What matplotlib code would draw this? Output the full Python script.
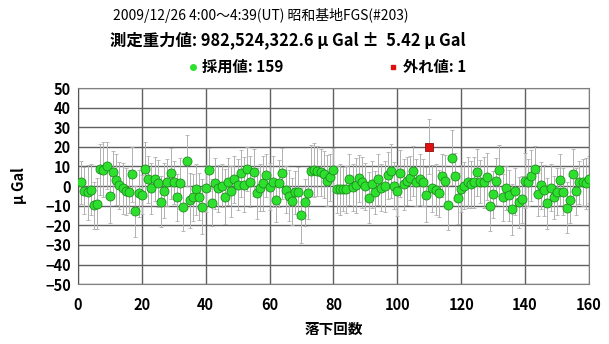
# -*- coding: utf-8 -*-

import matplotlib
matplotlib.use("Agg")
import matplotlib.pyplot as plt
from matplotlib.lines import Line2D
import numpy

plt.rcParams['font.family'] = ['Noto Sans CJK JP', 'DejaVu Sans']

# Data ########################################################

# gravity residual for each drop (uGal), drops 1..160 (drop 110 = outlier)
vals = [
    2.0, -2.4, -3.2, -1.9, -9.7, -8.9, 8.7, 8.3, 10.4, -4.9,
    7.0, 3.2, 0.5, -1.2, -2.6, -2.9, 6.0, -12.8, -3.7, -4.3,
    8.7, 3.6, -1.0, 3.6, 1.4, -8.0, -2.4, 1.9, 6.6, 1.9,
    -5.6, 1.4, -10.7, 12.9, -7.3, -5.8, -1.5, -5.5, -10.6, -1.2,
    8.3, -8.5, 1.5, -1.2, 0.2, -5.5, 2.2, -2.6, 3.6, 0.7,
    6.6, 0.7, 8.7, 2.2, 7.0, -3.7, -0.9, 1.5, 5.6, -0.3,
    2.2, -7.3, 1.5, 6.6, -1.9, -4.9, -7.8, -3.2, -3.2, -14.8,
    -8.3, -3.7, 7.8, 8.2, 7.7, 7.0, 6.1, 2.7, 4.4, 8.3,
    -1.5, -1.5, -1.5, -1.5, 3.6, -0.7, 0.5, 4.1, 1.9, -0.2,
    -6.0, 0.9, -3.2, 3.6, -0.9, 0.0, 5.6, 7.7, 0.2, -2.4,
    6.6, 1.0, 2.6, 4.1, 7.7, 1.9, 3.6, 1.9, -4.3, 20.1,
    -1.2, -1.9, -3.7, 5.3, 2.7, -9.5, 14.5, 4.9, -6.3, -1.4,
    0.2, 1.9, 1.0, 1.9, 7.0, 2.2, 1.9, 4.8, -10.0, -4.1,
    2.4, 8.0, -5.8, -1.0, -4.6, -11.8, -2.7, -8.3, -6.6, 2.7,
    1.9, 5.3, 8.7, -4.1, 0.5, -2.0, -8.7, -0.9, -5.8, -2.9,
    3.2, -2.9, -11.0, -7.0, 6.1, -2.7, 1.9, 1.9, 1.4, 3.6,
]

# error bar half length (uGal), read off roughly
errs = [
    11, 12, 14, 13, 12, 13, 13, 14, 12, 14,
    11, 13, 12, 13, 12, 11, 14, 13, 12, 10,
    14, 12, 13, 11, 12, 13, 14, 12, 13, 11,
    12, 13, 12, 13, 14, 12, 13, 12, 14, 12,
    11, 12, 13, 12, 11, 14, 12, 13, 12, 13,
    12, 14, 11, 13, 12, 13, 12, 14, 11, 12,
    13, 11, 12, 13, 12, 13, 12, 11, 13, 14,
    12, 13, 13, 14, 13, 12, 12, 13, 12, 11,
    12, 13, 11, 12, 13, 12, 14, 12, 13, 12,
    13, 12, 11, 13, 12, 13, 12, 14, 12, 13,
    12, 13, 12, 11, 13, 12, 13, 12, 14, 14,
    12, 13, 12, 11, 13, 13, 14, 12, 13, 12,
    12, 13, 12, 13, 12, 11, 13, 12, 13, 12,
    12, 13, 12, 11, 13, 13, 12, 13, 12, 14,
    12, 13, 12, 11, 12, 13, 13, 12, 11, 12,
    13, 12, 13, 12, 13, 12, 11, 12, 13, 12,
]

outlier_drop = 110
title1 = "2009/12/26 4:00～4:39(UT) 昭和基地FGS(#203)"
title2 = "測定重力値: 982,524,322.6 μ Gal ±  5.42 μ Gal"
label_ok = "採用値: 159"
label_out = "外れ値: 1"

# Plot ########################################################

drops = numpy.arange(1, len(vals) + 1)
vals = numpy.array(vals)
ok = drops != outlier_drop

fig = plt.figure(figsize=(6.09, 3.44), dpi=100)
ax = fig.add_axes([0.128, 0.174, 0.839, 0.570])

ax.errorbar(drops, vals, yerr=errs, fmt='none', ecolor='#b0b0b0',
            elinewidth=0.7, capsize=1.5, capthick=0.6, zorder=2)
ax.plot(drops[ok], vals[ok], 'o', color='#2ee02e', markeredgecolor='#1e8c1e',
        markeredgewidth=0.6, markersize=6.5, zorder=3)
ax.plot(drops[~ok], vals[~ok], 's', color='#e01010', markeredgecolor='#8c1010',
        markeredgewidth=0.6, markersize=6, zorder=4)

ax.set_xlim(0, 160)
ax.set_ylim(-50, 50)
ax.set_xticks(range(0, 161, 20))
ax.set_yticks(range(-50, 51, 10))
ax.grid(color='#606060', linewidth=1.0)
ax.set_axisbelow(True)
for s in ax.spines.values():
    s.set_color('#808080')
ax.spines['left'].set_color('#555555')
ax.tick_params(axis='x', length=0, pad=9, labelsize=10.5)
ax.tick_params(axis='y', length=0, pad=5, labelsize=10.5)
for t in ax.get_xticklabels() + ax.get_yticklabels():
    t.set_fontweight('bold')

ax.set_xlabel("落下回数", fontsize=10.5, fontweight='bold', labelpad=6)
ax.set_ylabel("μ Gal", fontsize=10.5, fontweight='bold', labelpad=13)

fig.text(0.185, 0.955, title1, fontsize=10, ha='left', va='center')
fig.text(0.18, 0.883, title2, fontsize=11.8, fontweight='bold',
         ha='left', va='center')

handles = [
    Line2D([], [], marker='o', linestyle='none', color='#2ee02e',
           markeredgecolor='#2ee02e', markersize=4),
    Line2D([], [], marker='s', linestyle='none', color='#e01010',
           markeredgecolor='#e01010', markersize=3.5),
]
fig.legend(handles, [label_ok, label_out], ncol=2, frameon=False,
           loc='center', bbox_to_anchor=(0.537, 0.805),
           handlelength=0.6, handletextpad=0.3, columnspacing=6.9,
           prop={'weight': 'bold', 'size': 11})

plt.savefig("out.png")
